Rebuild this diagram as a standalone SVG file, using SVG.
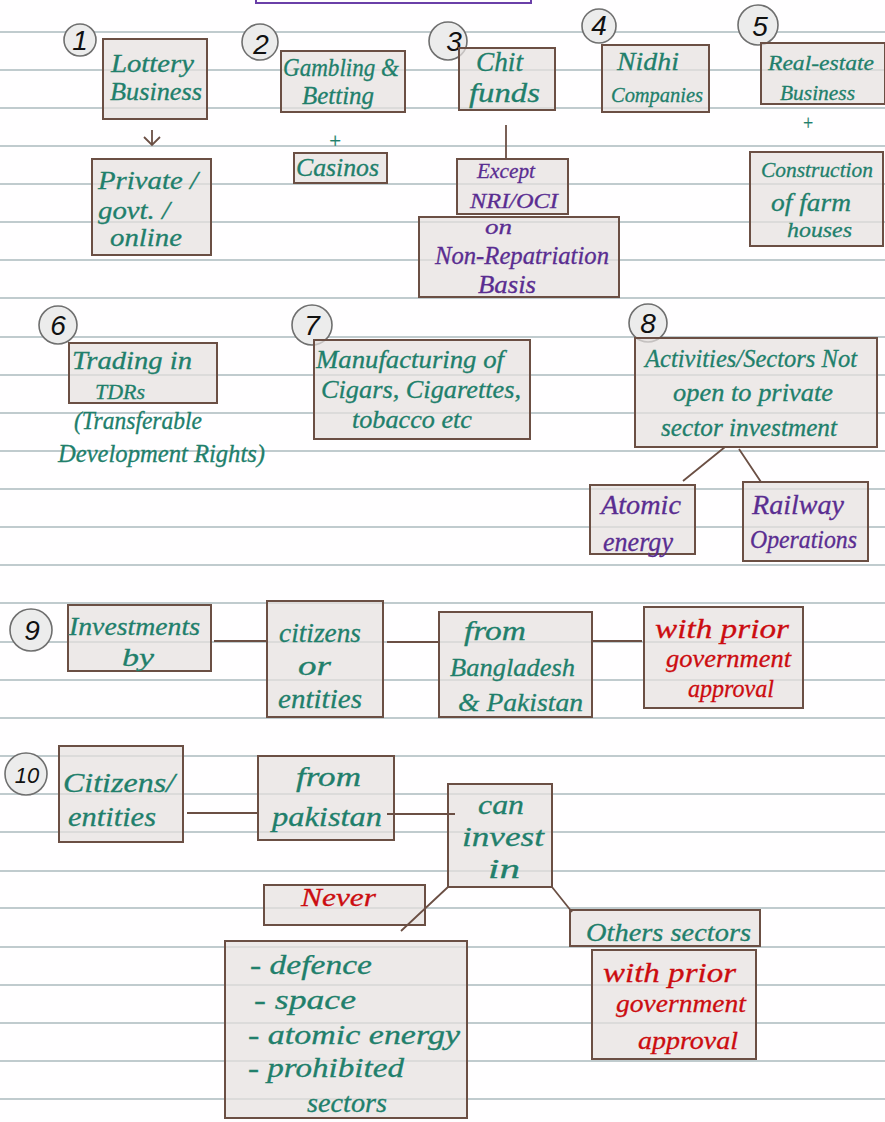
<svg xmlns="http://www.w3.org/2000/svg" width="885" height="1122" viewBox="0 0 885 1122">
<defs>
<style>
.rule{stroke:#c0cbce;stroke-width:2.2;fill:none}
.box{fill:#e6e1df;fill-opacity:.72;stroke:#6b4f44;stroke-width:2}
.num{fill:#ececec;stroke:#6f6f6f;stroke-width:1.6}
.conn{stroke:#6b4f44;stroke-width:1.8;fill:none}
text{font-family:"Liberation Serif",serif;font-style:italic;font-size:25px}
.g{fill:#217f6b;stroke:#217f6b;stroke-width:.3}
.p{fill:#5a2d91;stroke:#5a2d91;stroke-width:.3}
.r{fill:#cc0c10;stroke:#cc0c10;stroke-width:.3}
.l{font-size:27px}
.m{font-size:26px}
.s{font-size:22px}
.n{fill:#111;font-family:"Liberation Sans",sans-serif;font-style:italic;font-size:28px;text-anchor:middle}
</style>
</defs>
<rect width="885" height="1122" fill="#fffeff"/>
<g id="rules">
<path class="rule" d="M0 32H885M0 70H885M0 108H885M0 146H885M0 184H885M0 222H885M0 260H885M0 298H885M0 337H885M0 375H885M0 413H885M0 451H885M0 489H885M0 527H885M0 565H885M0 603H885M0 642H885M0 680H885M0 718H885M0 756H885M0 794H885M0 832H885M0 871H885M0 908H885M0 947H885M0 985H885M0 1023H885M0 1061H885M0 1099H885"/>
</g>
<path id="title-box" d="M256 0V3H531V0" fill="none" stroke="#6a3fa8" stroke-width="2"/>
<g id="n1"><circle class="num" cx="80" cy="40" r="16"/><text class="n" x="80" y="50">1</text><rect class="box" x="103" y="39" width="104" height="80"/><text class="g m" x="111" y="72" textLength="83" lengthAdjust="spacingAndGlyphs">Lottery</text><text class="g" x="110" y="100" textLength="92" lengthAdjust="spacingAndGlyphs">Business</text></g>
<g id="n1b"><rect class="box" x="92" y="159" width="119" height="96"/><text class="g m" x="98" y="189" textLength="100" lengthAdjust="spacingAndGlyphs">Private /</text><text class="g m" x="98" y="219" textLength="72" lengthAdjust="spacingAndGlyphs">govt. /</text><text class="g m" x="110" y="246" textLength="72" lengthAdjust="spacingAndGlyphs">online</text></g>
<g id="n2"><circle class="num" cx="260" cy="42" r="18"/><text class="n" x="261" y="54">2</text><rect class="box" x="281" y="51" width="124" height="61"/><text class="g" x="283" y="76" textLength="116" lengthAdjust="spacingAndGlyphs">Gambling &amp;</text><text class="g" x="302" y="104" textLength="72" lengthAdjust="spacingAndGlyphs">Betting</text></g>
<g id="n2b"><text class="g s" x="328" y="148" textLength="14" lengthAdjust="spacingAndGlyphs">+</text><rect class="box" x="294" y="153" width="93" height="30"/><text class="g" x="296" y="176" textLength="83" lengthAdjust="spacingAndGlyphs">Casinos</text></g>
<g id="n3"><circle class="num" cx="448" cy="41" r="19"/><text class="n" x="454" y="51">3</text><rect class="box" x="459" y="48" width="96" height="62"/><text class="g l" x="476" y="71" textLength="47" lengthAdjust="spacingAndGlyphs">Chit</text><text class="g l" x="469" y="102" textLength="71" lengthAdjust="spacingAndGlyphs">funds</text></g>
<g id="n3b"><rect class="box" x="457" y="159" width="111" height="55"/><text class="p s" x="477" y="178" textLength="58" lengthAdjust="spacingAndGlyphs">Except</text><text class="p s" x="470" y="208" textLength="88" lengthAdjust="spacingAndGlyphs">NRI/OCI</text></g>
<g id="n3c"><rect class="box" x="419" y="217" width="200" height="80"/><text class="p s" x="485" y="234" textLength="27" lengthAdjust="spacingAndGlyphs">on</text><text class="p" x="435" y="264" textLength="174" lengthAdjust="spacingAndGlyphs">Non-Repatriation</text><text class="p" x="478" y="293" textLength="58" lengthAdjust="spacingAndGlyphs">Basis</text></g>
<g id="n4"><circle class="num" cx="599" cy="26" r="17"/><text class="n" x="599" y="35">4</text><rect class="box" x="602" y="45" width="107" height="67"/><text class="g m" x="617" y="70" textLength="62" lengthAdjust="spacingAndGlyphs">Nidhi</text><text class="g s" x="611" y="102" textLength="92" lengthAdjust="spacingAndGlyphs">Companies</text></g>
<g id="n5"><circle class="num" cx="758" cy="25" r="20"/><text class="n" x="760" y="36">5</text><rect class="box" x="761" y="43" width="124" height="61"/><text class="g s" x="768" y="70" textLength="106" lengthAdjust="spacingAndGlyphs">Real-estate</text><text class="g s" x="780" y="100" textLength="75" lengthAdjust="spacingAndGlyphs">Business</text></g>
<g id="n5b"><text class="g s" x="802" y="130" textLength="12" lengthAdjust="spacingAndGlyphs">+</text><rect class="box" x="750" y="152" width="133" height="94"/><text class="g s" x="761" y="177" textLength="112" lengthAdjust="spacingAndGlyphs">Construction</text><text class="g m" x="771" y="211" textLength="80" lengthAdjust="spacingAndGlyphs">of farm</text><text class="g s" x="787" y="237" textLength="65" lengthAdjust="spacingAndGlyphs">houses</text></g>
<g id="n6"><circle class="num" cx="58" cy="325" r="19"/><text class="n" x="58" y="335">6</text><rect class="box" x="69" y="343" width="148" height="60"/><text class="g m" x="72" y="369" textLength="120" lengthAdjust="spacingAndGlyphs">Trading in</text><text class="g s" x="95" y="399" textLength="50" lengthAdjust="spacingAndGlyphs">TDRs</text><text class="g" x="74" y="429" textLength="128" lengthAdjust="spacingAndGlyphs">(Transferable</text><text class="g" x="58" y="462" textLength="207" lengthAdjust="spacingAndGlyphs">Development Rights)</text></g>
<g id="n7"><circle class="num" cx="312" cy="325" r="20"/><text class="n" x="312" y="335">7</text><rect class="box" x="314" y="340" width="216" height="99"/><text class="g m" x="316" y="368" textLength="188" lengthAdjust="spacingAndGlyphs">Manufacturing of</text><text class="g m" x="321" y="398" textLength="200" lengthAdjust="spacingAndGlyphs">Cigars, Cigarettes,</text><text class="g" x="352" y="428" textLength="120" lengthAdjust="spacingAndGlyphs">tobacco etc</text></g>
<g id="n8"><circle class="num" cx="648" cy="323" r="19"/><text class="n" x="648" y="333">8</text><rect class="box" x="635" y="338" width="242" height="109"/><text class="g" x="645" y="367" textLength="212" lengthAdjust="spacingAndGlyphs">Activities/Sectors Not</text><text class="g" x="673" y="401" textLength="160" lengthAdjust="spacingAndGlyphs">open to private</text><text class="g" x="661" y="436" textLength="176" lengthAdjust="spacingAndGlyphs">sector investment</text></g>
<g id="n8a"><rect class="box" x="590" y="485" width="105" height="69"/><text class="p l" x="601" y="514" textLength="80" lengthAdjust="spacingAndGlyphs">Atomic</text><text class="p l" x="603" y="551" textLength="70" lengthAdjust="spacingAndGlyphs">energy</text></g>
<g id="n8b"><rect class="box" x="743" y="482" width="125" height="79"/><text class="p l" x="752" y="514" textLength="92" lengthAdjust="spacingAndGlyphs">Railway</text><text class="p" x="750" y="548" textLength="107" lengthAdjust="spacingAndGlyphs">Operations</text></g>
<g id="n9"><circle class="num" cx="31" cy="630" r="21"/><text class="n" x="32" y="640">9</text><rect class="box" x="68" y="605" width="143" height="66"/><text class="g m" x="69" y="635" textLength="131" lengthAdjust="spacingAndGlyphs">Investments</text><text class="g m" x="122" y="666" textLength="32" lengthAdjust="spacingAndGlyphs">by</text></g>
<g id="n9b"><rect class="box" x="267" y="601" width="116" height="116"/><text class="g l" x="279" y="642" textLength="82" lengthAdjust="spacingAndGlyphs">citizens</text><text class="g l" x="298" y="675" textLength="33" lengthAdjust="spacingAndGlyphs">or</text><text class="g l" x="278" y="708" textLength="84" lengthAdjust="spacingAndGlyphs">entities</text></g>
<g id="n9c"><rect class="box" x="439" y="612" width="153" height="105"/><text class="g l" x="464" y="640" textLength="62" lengthAdjust="spacingAndGlyphs">from</text><text class="g m" x="450" y="676" textLength="125" lengthAdjust="spacingAndGlyphs">Bangladesh</text><text class="g m" x="458" y="711" textLength="125" lengthAdjust="spacingAndGlyphs">&amp; Pakistan</text></g>
<g id="n9d"><rect class="box" x="644" y="607" width="159" height="101"/><text class="r l" x="655" y="638" textLength="134" lengthAdjust="spacingAndGlyphs">with prior</text><text class="r" x="666" y="667" textLength="125" lengthAdjust="spacingAndGlyphs">government</text><text class="r" x="688" y="697" textLength="86" lengthAdjust="spacingAndGlyphs">approval</text></g>
<g id="n10"><circle class="num" cx="26" cy="774" r="21"/><text class="n" x="27" y="783" style="font-size:22px">10</text><rect class="box" x="59" y="746" width="124" height="96"/><text class="g l" x="63" y="792" textLength="112" lengthAdjust="spacingAndGlyphs">Citizens/</text><text class="g l" x="68" y="826" textLength="88" lengthAdjust="spacingAndGlyphs">entities</text></g>
<g id="n10b"><rect class="box" x="258" y="756" width="136" height="84"/><text class="g l" x="296" y="786" textLength="65" lengthAdjust="spacingAndGlyphs">from</text><text class="g l" x="272" y="826" textLength="110" lengthAdjust="spacingAndGlyphs">pakistan</text></g>
<g id="n10c"><rect class="box" x="448" y="784" width="104" height="103"/><text class="g l" x="478" y="814" textLength="46" lengthAdjust="spacingAndGlyphs">can</text><text class="g l" x="462" y="846" textLength="82" lengthAdjust="spacingAndGlyphs">invest</text><text class="g l" x="488" y="878" textLength="32" lengthAdjust="spacingAndGlyphs">in</text></g>
<g id="n10d"><rect class="box" x="264" y="885" width="161" height="40"/><text class="r m" x="301" y="906" textLength="75" lengthAdjust="spacingAndGlyphs">Never</text></g>
<g id="n10e"><rect class="box" x="225" y="941" width="242" height="177"/><text class="g l" x="250" y="974" textLength="122" lengthAdjust="spacingAndGlyphs">- defence</text><text class="g l" x="254" y="1009" textLength="102" lengthAdjust="spacingAndGlyphs">- space</text><text class="g l" x="248" y="1044" textLength="212" lengthAdjust="spacingAndGlyphs">- atomic energy</text><text class="g l" x="248" y="1077" textLength="156" lengthAdjust="spacingAndGlyphs">- prohibited</text><text class="g l" x="307" y="1112" textLength="80" lengthAdjust="spacingAndGlyphs">sectors</text></g>
<g id="n10f"><rect class="box" x="570" y="910" width="190" height="36"/><text class="g m" x="586" y="941" textLength="165" lengthAdjust="spacingAndGlyphs">Others sectors</text></g>
<g id="n10g"><rect class="box" x="592" y="950" width="164" height="109"/><text class="r l" x="603" y="982" textLength="133" lengthAdjust="spacingAndGlyphs">with prior</text><text class="r m" x="616" y="1012" textLength="130" lengthAdjust="spacingAndGlyphs">government</text><text class="r m" x="638" y="1049" textLength="100" lengthAdjust="spacingAndGlyphs">approval</text></g>
<g id="connectors">
<path class="conn" d="M152 130V145M144 137L152 145L160 137"/>
<path class="conn" d="M506 125V160"/>
<path class="conn" d="M725 447L683 481M739 449L761 482"/>
<path class="conn" d="M214 641H267M387 642H439M592 641H642"/>
<path class="conn" d="M187 813H259M387 814H455"/>
<path class="conn" d="M448 887L401 931M552 887L572 912"/>
</g>
</svg>
